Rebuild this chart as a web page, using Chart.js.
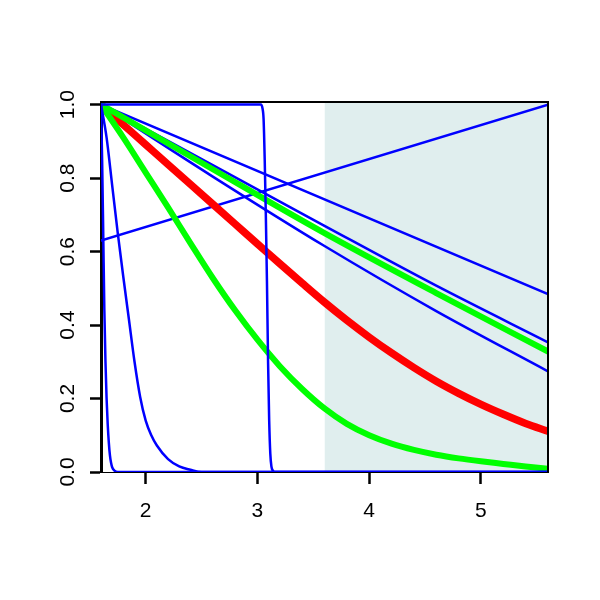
<!DOCTYPE html>
<html>
<head>
<meta charset="utf-8">
<script src="https://cdn.jsdelivr.net/npm/chart.js@4"></script>
<style>
  body { margin: 0; background: #ffffff; }
  canvas { display: block; }
</style>
</head>
<body>
<canvas id="myChart" width="600" height="600"></canvas>
<script>
// tick labels
const xTicks = [2, 3, 4, 5];
const yTicks = [0, 0.2, 0.4, 0.6, 0.8, 1.0];

// shaded band
const shadeX = [3.6, 5.6];

// fine x grid for the two curved thick lines
const xGrid = [1.6, 1.8, 2.0, 2.2, 2.4, 2.6, 2.8, 3.0, 3.2, 3.4, 3.6, 3.8, 4.0, 4.2, 4.4, 4.6, 4.8, 5.0, 5.2, 5.4, 5.6];
const redY = [1.0, 0.945, 0.891, 0.837, 0.783, 0.729, 0.675, 0.621, 0.567, 0.514, 0.462, 0.413, 0.367, 0.324, 0.284, 0.247, 0.214, 0.184, 0.157, 0.132, 0.111];
const greenLowY = [1.0, 0.91, 0.815, 0.72, 0.623, 0.528, 0.44, 0.36, 0.288, 0.226, 0.173, 0.131, 0.100, 0.077, 0.060, 0.047, 0.037, 0.029, 0.022, 0.015, 0.009];

// coarse x grid for the nearly straight lines
const xCoarse = [1.6, 2.6, 3.6, 4.6, 5.6];
const greenUpY = [1.0, 0.824, 0.650, 0.487, 0.328];
const blueBY = [1.0, 0.835, 0.670, 0.507, 0.353];
const blueCY = [1.0, 0.804, 0.615, 0.438, 0.274];

// straight blue lines
const lineX = [1.6, 5.6];
const blueAY = [1.0, 0.484];
const blueRiseY = [0.63, 1.0];

// steep blue curves
const blueDX = [1.6, 1.61, 1.62, 1.63, 1.64, 1.65, 1.66, 1.67, 1.68, 1.69, 1.70, 1.72, 1.75, 5.6];
const blueDY = [1, 0.85, 0.65, 0.44, 0.3, 0.2, 0.13, 0.08, 0.045, 0.025, 0.013, 0.004, 0, 0];
const blueEX = [1.6, 1.65, 1.7, 1.75, 1.8, 1.85, 1.9, 1.95, 2.0, 2.05, 2.1, 2.2, 2.3, 2.4, 2.5, 5.6];
const blueEY = [1, 0.91, 0.78, 0.65, 0.53, 0.415, 0.3, 0.205, 0.14, 0.1, 0.072, 0.035, 0.015, 0.006, 0, 0];
const blueFX = [1.6, 3.03, 3.045, 3.055, 3.065, 3.075, 3.085, 3.095, 3.105, 3.115, 3.125, 3.14, 3.16, 5.6];
const blueFY = [1, 1, 0.99, 0.96, 0.85, 0.7, 0.52, 0.3, 0.14, 0.05, 0.015, 0.003, 0, 0];

const yTop = 1.007;

function pts(xs, ys) {
    return xs.map((x, i) => ({x: x, y: ys[i]}));
}

function curve(xs, ys, color, width, order) {
    return {
        data: pts(xs, ys),
        borderColor: color,
        borderWidth: width,
        pointRadius: 0,
        fill: false,
        cubicInterpolationMode: 'monotone',
        borderCapStyle: 'round',
        borderJoinStyle: 'round',
        order: order,
        xAxisID: 'x',
        yAxisID: 'y'
    };
}

const BLUE = '#0000ff';
const RED = '#ff0000';
const GREEN = '#00ff00';

const data = {
    datasets: [
        {
            data: shadeX.map(x => ({x: x, y: yTop})),
            borderWidth: 0,
            pointRadius: 0,
            backgroundColor: '#e0eeee',
            fill: 'origin',
            order: 100,
            xAxisID: 'x',
            yAxisID: 'y'
        },
        curve(lineX, blueRiseY, BLUE, 2.5, 20),
        curve(lineX, blueAY, BLUE, 2.5, 12),
        curve(xCoarse, blueBY, BLUE, 2.5, 11),
        curve(xCoarse, blueCY, BLUE, 2.5, 10),
        curve(xGrid, redY, RED, 7.5, 8),
        curve(xCoarse, greenUpY, GREEN, 6, 7),
        curve(xGrid, greenLowY, GREEN, 6, 6),
        curve(blueDX, blueDY, BLUE, 2.5, 3),
        curve(blueEX, blueEY, BLUE, 2.5, 2),
        curve(blueFX, blueFY, BLUE, 2.5, 1)
    ]
};

const tickFont = {family: "'Liberation Sans', Arial, Helvetica, sans-serif", size: 21};

const config = {
    type: 'line',
    data: data,
    options: {
        responsive: false,
        animation: false,
        devicePixelRatio: 1,
        layout: {
            padding: {top: 102, right: 52, left: 0, bottom: 0}
        },
        plugins: {
            legend: {display: false},
            tooltip: {enabled: false}
        },
        scales: {
            x: {
                type: 'linear',
                position: 'bottom',
                min: 1.6,
                max: 5.6,
                afterBuildTicks: (scale) => { scale.ticks = xTicks.map(v => ({value: v})); },
                afterFit: (scale) => { scale.height = 128; },
                grid: {
                    display: true,
                    drawOnChartArea: false,
                    drawTicks: true,
                    tickLength: 12,
                    tickColor: '#000000',
                    tickWidth: 2.5
                },
                border: {display: true, color: '#000000', width: 1},
                ticks: {
                    color: '#000000',
                    font: tickFont,
                    padding: 15,
                    maxRotation: 0,
                    callback: (v) => String(v)
                }
            },
            y: {
                type: 'linear',
                position: 'left',
                min: 0,
                max: yTop,
                afterBuildTicks: (scale) => { scale.ticks = yTicks.map(v => ({value: v})); },
                afterFit: (scale) => { scale.width = 101; },
                grid: {
                    display: true,
                    drawOnChartArea: false,
                    drawTicks: true,
                    tickLength: 11,
                    tickColor: '#000000',
                    tickWidth: 2.5
                },
                border: {display: true, color: '#000000', width: 3},
                ticks: {
                    color: '#000000',
                    font: tickFont,
                    padding: 7,
                    minRotation: 90,
                    maxRotation: 90,
                    crossAlign: 'center',
                    callback: (v) => v.toFixed(1)
                }
            },
            xTop: {
                type: 'linear',
                position: 'top',
                min: 1.6,
                max: 5.6,
                afterFit: (scale) => { scale.height = 0; },
                grid: {display: false},
                ticks: {display: false},
                border: {display: true, color: '#000000', width: 2, z: 1}
            },
            yRight: {
                type: 'linear',
                position: 'right',
                min: 0,
                max: yTop,
                afterFit: (scale) => { scale.width = 0; },
                grid: {display: false},
                ticks: {display: false},
                border: {display: true, color: '#000000', width: 2, z: 1}
            }
        }
    }
};

const myChart = new Chart(document.getElementById('myChart'), config);
</script>
</body>
</html>
